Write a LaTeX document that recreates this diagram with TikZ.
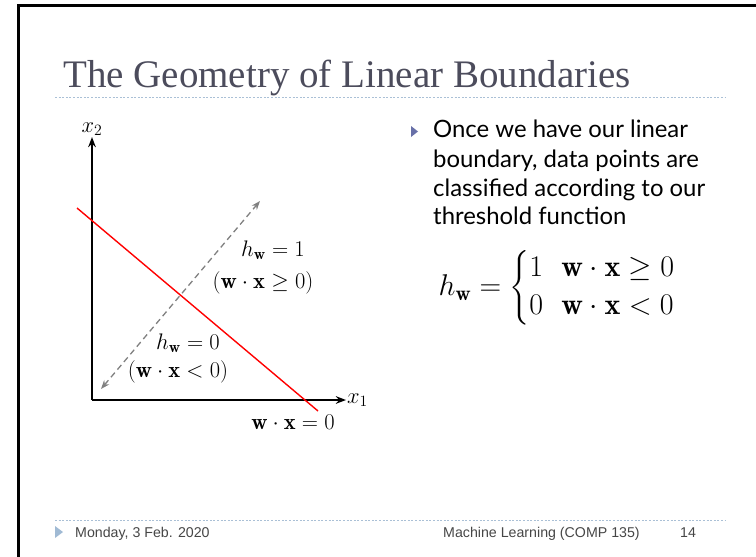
\RequirePackage{fix-cm}
\documentclass[tikz,border=0pt]{standalone}
\usepackage{amsmath}
\usepackage{fontspec}
\newfontfamily\titlefont{Liberation Serif}
\newfontfamily\bodyfont{Lato}
\newfontfamily\footfont{Liberation Sans}
\usetikzlibrary{arrows.meta}

\definecolor{titlegray}{RGB}{76,76,92}
\definecolor{ruleblue}{RGB}{170,192,214}
\definecolor{bulletblue}{RGB}{104,112,168}
\definecolor{footblue}{RGB}{160,186,212}
\definecolor{footgray}{RGB}{70,70,70}

% size the bullet text so that its widest line is 272pt
\newlength\linewd
\settowidth\linewd{\fontsize{10}{12}\bodyfont classified according to our}
\pgfmathsetmacro\bodysize{10*272/\linewd}

\begin{document}
\begin{tikzpicture}[
    x=1pt,y=-1pt,
    >=Stealth,
    frame/.style={line width=3pt},
    rule/.style={draw=ruleblue,line width=1pt,dash pattern=on 2pt off 1.6pt},
    axis/.style={->,line width=1.6pt},
    boundary/.style={red,line width=1.4pt},
    normal/.style={<->,gray,line width=1.3pt,dash pattern=on 6pt off 4pt},
    lbl/.style={inner sep=1pt,font=\fontsize{22.5}{26}\selectfont},
    body/.style={anchor=base west,inner sep=0pt,font=\fontsize{\bodysize}{28}\bodyfont},
    foot/.style={anchor=base west,inner sep=0pt,text=footgray,font=\fontsize{14.2}{16}\footfont},
]
\useasboundingbox (0,0) rectangle (756,557);

% slide frame
\coordinate (fb) at (18.5,557);
\coordinate (ft) at (18.5,5.5);
\coordinate (fr) at (756,5.5);
\draw[frame] (fb) -- (ft) -- (fr);

% title and rule
\node[anchor=base west,inner sep=0pt,text=titlegray,font=\fontsize{39}{44}\titlefont]
    (title) at (63,87) {The Geometry of Linear Boundaries};
\coordinate (r1) at (55,97);
\coordinate (r2) at (725,97);
\draw[rule] (r1) -- (r2);

% axes
\coordinate (O) at (92,400);
\coordinate (ytip) at (92,137);
\coordinate (xtip) at (346,400);
\draw[axis] (O) -- (ytip);
\draw[axis] (O) -- (xtip);
\node[lbl,above] (x2) at (ytip) {$x_2$};
\node[lbl,right] (x1) at (xtip) {$x_1$};

% boundary w.x = 0
\coordinate (b1) at (77,208);
\coordinate (b2) at (318,411);
\draw[boundary] (b1) -- (b2);
\node[lbl] (bnd) at (293,422) {$\mathbf{w}\cdot\mathbf{x}=0$};

% direction of w
\coordinate (n1) at (101,389);
\coordinate (n2) at (260,201);
\draw[normal] (n1) -- (n2);

% regions
\node[lbl] (h1) at (273,250) {$h_{\mathbf{w}}=1$};
\node[lbl] (c1) at (263,283) {$(\mathbf{w}\cdot\mathbf{x}\geq 0)$};
\node[lbl] (h0) at (188,343) {$h_{\mathbf{w}}=0$};
\node[lbl] (c0) at (178,372) {$(\mathbf{w}\cdot\mathbf{x}<0)$};

% bullet text
\fill[bulletblue] (411,126) -- (418,131.5) -- (411,137) -- cycle;
\node[body] (l1) at (433,137) {Once we have our linear};
\node[body] (l2) at (433,167) {boundary, data points are};
\node[body] (l3) at (433,196) {classified according to our};
\node[body] (l4) at (433,224) {threshold function};

% threshold function
\node[inner sep=0pt,font=\fontsize{30}{36}\selectfont] (hw) at (557,288)
    {\renewcommand\arraystretch{1.05}%
     $h_{\mathbf{w}}=\left\{\begin{array}{@{}l@{\hspace{0.6em}}l@{}}
        1 & \mathbf{w}\cdot\mathbf{x}\geq 0\\
        0 & \mathbf{w}\cdot\mathbf{x}<0\end{array}\right.$};

% footer
\coordinate (f1) at (55,520);
\coordinate (f2) at (725,520);
\draw[rule] (f1) -- (f2);
\fill[footblue] (55,526) -- (63,532) -- (55,538) -- cycle;
\node[foot] (date) at (75,537) {Monday, 3 Feb. 2020};
\node[foot] (course) at (443,537) {Machine Learning (COMP 135)};
\node[foot] (page) at (680,537) {14};
\end{tikzpicture}
\end{document}
